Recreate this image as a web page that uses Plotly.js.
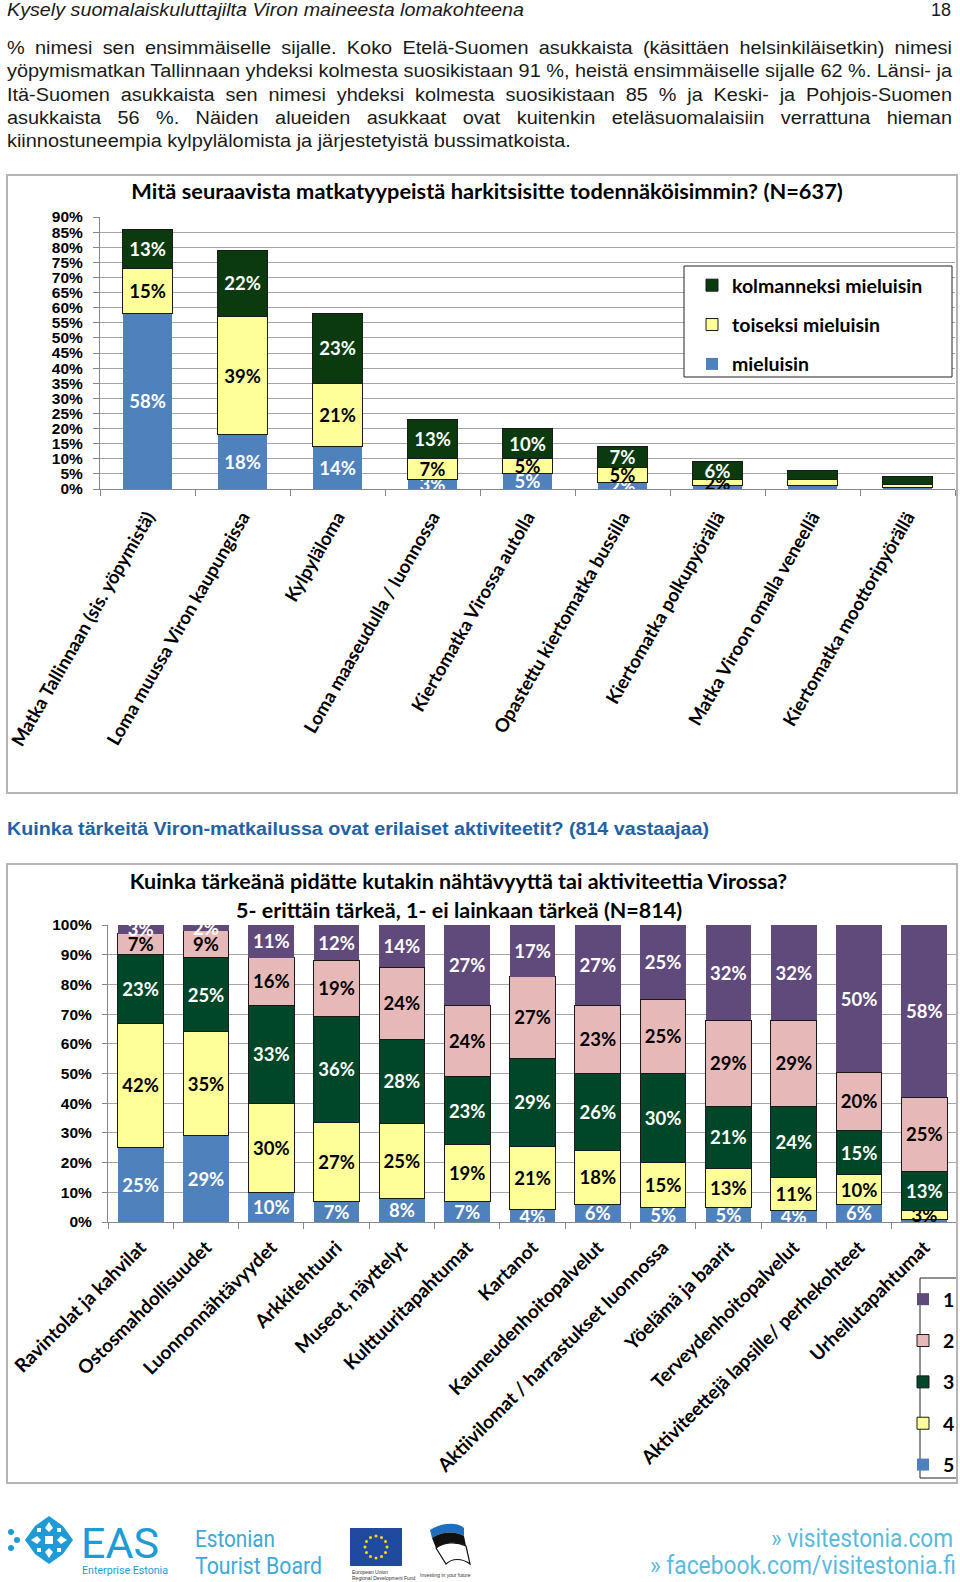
<!DOCTYPE html>
<html><head><meta charset="utf-8">
<script src="https://cdn.plot.ly/plotly-3.0.1.min.js"></script>
<style>
html,body{margin:0;padding:0;}
body{width:960px;height:1582px;position:relative;background:#fff;overflow:hidden;font-family:"Liberation Sans",Arial,sans-serif;}
.ln{position:absolute;left:7px;white-space:nowrap;font-size:18px;line-height:20px;color:#1a1a1a;transform-origin:0 50%;}
.box{position:absolute;border:2px solid #b4b4b4;box-sizing:border-box;pointer-events:none;}
.plot{position:absolute;}
.ft{position:absolute;white-space:nowrap;transform-origin:0 50%;}
</style></head><body>

<div class="ln fit" data-w="517" style="top:0px;font-style:italic;">Kysely suomalaiskuluttajilta Viron maineesta lomakohteena</div>
<div class="ln" style="top:0px;left:auto;right:9px;">18</div>

<div class="ln para just" style="top:38px;">% nimesi sen ensimmäiselle sijalle. Koko Etelä-Suomen asukkaista (käsittäen helsinkiläisetkin) nimesi</div>
<div class="ln para just" style="top:61px;">yöpymismatkan Tallinnaan yhdeksi kolmesta suosikistaan 91 %, heistä ensimmäiselle sijalle 62 %. Länsi- ja</div>
<div class="ln para just" style="top:85px;">Itä-Suomen asukkaista sen nimesi yhdeksi kolmesta suosikistaan 85 % ja Keski- ja Pohjois-Suomen</div>
<div class="ln para just" style="top:108px;">asukkaista 56 %. Näiden alueiden asukkaat ovat kuitenkin eteläsuomalaisiin verrattuna hieman</div>
<div class="ln para" style="top:131px;">kiinnostuneempia kylpylälomista ja järjestetyistä bussimatkoista.</div>

<div id="chart1" class="plot" style="left:7px;top:175px;width:950px;height:618px;"></div>
<div class="box" style="left:6px;top:174px;width:952px;height:620px;"></div>

<div class="ln fit" data-w="702" style="top:819px;color:#1f62a6;font-weight:bold;">Kuinka tärkeitä Viron-matkailussa ovat erilaiset aktiviteetit? (814 vastaajaa)</div>

<div id="chart2" class="plot" style="left:7px;top:864px;width:950px;height:619px;"></div>
<div class="box" style="left:6px;top:863px;width:952px;height:621px;"></div>

<!-- footer -->
<svg style="position:absolute;left:7px;top:1516px;" width="68" height="48" viewBox="0 0 68 48">
  <g fill="#1e9bd7">
    <circle cx="4" cy="16" r="3"/><circle cx="4" cy="32" r="3"/><circle cx="10" cy="24" r="3"/>
    <polygon points="42,0 56,10 66,24 56,38 42,48 28,38 18,24 28,10"/>
  </g>
  <g fill="#fff">
    <rect x="38" y="20" width="8" height="8"/>
    <polygon points="42,6 46,12 42,16 38,12"/><polygon points="42,32 46,36 42,42 38,36"/>
    <polygon points="24,24 30,20 34,24 30,28"/><polygon points="50,24 54,20 60,24 54,28"/>
    <rect x="30" y="12" width="4" height="4"/><rect x="50" y="12" width="4" height="4"/>
    <rect x="30" y="32" width="4" height="4"/><rect x="50" y="32" width="4" height="4"/>
  </g>
</svg>
<div class="ft fit" data-w="78" style="left:81px;top:1526px;font-family:Roboto,sans-serif;font-size:42px;line-height:36px;color:#1e9bd7;">EAS</div>
<div class="ft fit" data-w="86" style="left:82px;top:1565px;font-family:Roboto,sans-serif;font-size:10px;line-height:12px;color:#1e9bd7;">Enterprise Estonia</div>
<div class="ft fit" data-w="80" style="left:195px;top:1527px;font-family:Roboto,sans-serif;font-size:23px;line-height:26px;color:#3ea9d9;">Estonian</div>
<div class="ft fit" data-w="127" style="left:195px;top:1554px;font-family:Roboto,sans-serif;font-size:23px;line-height:26px;color:#3ea9d9;">Tourist Board</div>
<svg style="position:absolute;left:350px;top:1528px;" width="52" height="38" viewBox="0 0 52 38">
  <rect x="0" y="0" width="52" height="38" fill="#1f4aa0"/>
  <g fill="#ffdd00" id="stars"></g>
</svg>
<div class="ft" style="left:352px;top:1569px;font-size:5px;line-height:6px;color:#333;">European Union<br>Regional Development Fund</div>
<svg style="position:absolute;left:424px;top:1522px;" width="50" height="46" viewBox="0 0 50 46">
  <path d="M6,8 C18,0 34,0 40,6 L40,14 C32,9 18,9 8,16 Z" fill="#1f6fbf"/>
  <path d="M8,16 C18,9 32,9 40,14 L42,24 C32,19 20,20 12,26 Z" fill="#111"/>
  <path d="M12,26 C20,20 32,19 42,24 L46,42 C38,36 28,36 22,42 Z" fill="#fff" stroke="#111" stroke-width="1.2"/>
</svg>
<div class="ft" style="left:420px;top:1572px;font-size:5px;line-height:6px;color:#333;">Investing in your future</div>
<div class="ft fit" data-w="182" style="left:771px;top:1525px;font-family:Roboto,sans-serif;font-size:25px;line-height:28px;color:#5cb9dc;">» visitestonia.com</div>
<div class="ft fit" data-w="306" style="left:650px;top:1552px;font-family:Roboto,sans-serif;font-size:25px;line-height:28px;color:#5cb9dc;">» facebook.com/visitestonia.fi</div>

<script>
// ---------- Chart 1 data ----------
const c1Categories = ['Matka Tallinnaan (sis. yöpymistä)', 'Loma muussa Viron kaupungissa', 'Kylpyläloma',
  'Loma maaseudulla / luonnossa', 'Kiertomatka Virossa autolla', 'Opastettu kiertomatka bussilla',
  'Kiertomatka polkupyörällä', 'Matka Viroon omalla veneellä', 'Kiertomatka moottoripyörällä'];
const c1SeriesNames = ['mieluisin', 'toiseksi mieluisin', 'kolmanneksi mieluisin'];
const c1First  = [58, 18, 14, 3, 5, 2, 1, 1, 0.5];
const c1Second = [15, 39, 21, 7, 5, 5, 2, 2, 1];
const c1Third  = [13, 22, 23, 13, 10, 7, 6, 3, 2.5];
const c1FirstLabels  = ['58%', '18%', '14%', '3%', '5%', '2%', '', '', ''];
const c1SecondLabels = ['15%', '39%', '21%', '7%', '5%', '5%', '2%', '', ''];
const c1ThirdLabels  = ['13%', '22%', '23%', '13%', '10%', '7%', '6%', '', ''];
const c1Title = 'Mitä seuraavista matkatyypeistä harkitsisitte todennäköisimmin? (N=637)';

// ---------- Chart 2 data ----------
const c2Categories = ['Ravintolat ja kahvilat', 'Ostosmahdollisuudet', 'Luonnonnähtävyydet', 'Arkkitehtuuri',
  'Museot, näyttelyt', 'Kulttuuritapahtumat', 'Kartanot', 'Kauneudenhoitopalvelut',
  'Aktiivilomat / harrastukset luonnossa', 'Yöelämä ja baarit', 'Terveydenhoitopalvelut',
  'Aktiviteettejä lapsille/ perhekohteet', 'Urheilutapahtumat'];
const c2SeriesNames = ['5', '4', '3', '2', '1'];
const c2Score5 = [25, 29, 10, 7, 8, 7, 4, 6, 5, 5, 4, 6, 1];
const c2Score4 = [42, 35, 30, 27, 25, 19, 21, 18, 15, 13, 11, 10, 3];
const c2Score3 = [23, 25, 33, 36, 28, 23, 29, 26, 30, 21, 24, 15, 13];
const c2Score2 = [7, 9, 16, 19, 24, 24, 27, 23, 25, 29, 29, 20, 25];
const c2Score1 = [3, 2, 11, 12, 14, 27, 17, 27, 25, 32, 32, 50, 58];
const c2Score5Labels = ['25%', '29%', '10%', '7%', '8%', '7%', '4%', '6%', '5%', '5%', '4%', '6%', ''];
const c2Title1 = 'Kuinka tärkeänä pidätte kutakin nähtävyyttä tai aktiviteettia Virossa?';
const c2Title2 = '5- erittäin tärkeä, 1- ei lainkaan tärkeä (N=814)';

const pct = v => v + '%';

const BLUE = '#4f81bd', YELLOW = '#ffff99', GREEN1 = '#0b3a0e', GREEN2 = '#00472a', PINK = '#e6b9b8', PURPLE = '#604a7b';
const LABEL_FONT = 'Lato, "Open Sans", sans-serif';

function barTrace(x, y, text, name, color, lineW, txtColor, group, rank) {
  return {
    type: 'bar', x: x, y: y, name: name, text: text, legendgroup: group, legendrank: rank,
    textposition: 'inside', insidetextanchor: 'middle', constraintext: 'none', textangle: 0,
    textfont: {family: LABEL_FONT, size: 18.5, weight: 700, color: txtColor},
    insidetextfont: {family: LABEL_FONT, size: 18.5, weight: 700, color: txtColor},
    marker: {color: color, line: {color: '#1a1a1a', width: lineW}},
    cliponaxis: true, hoverinfo: 'none'
  };
}

// Chart 1
const t1 = [
  barTrace(c1Categories, c1First, c1FirstLabels, c1SeriesNames[0], BLUE, 0, '#ffffff', 'a', 3),
  barTrace(c1Categories, c1Second, c1SecondLabels, c1SeriesNames[1], YELLOW, 1, '#000000', 'b', 2),
  barTrace(c1Categories, c1Third, c1ThirdLabels, c1SeriesNames[2], GREEN1, 1, '#ffffff', 'c', 1)
];
const L1 = {l: 93, r: 2, t: 42, b: 304};
const W1 = 950, H1 = 618;
const pw1 = W1 - L1.l - L1.r, ph1 = H1 - L1.t - L1.b;
const px1 = x => (x - L1.l) / pw1, py1 = y => 1 - (y - L1.t) / ph1;
const layout1 = {
  width: W1, height: H1,
  margin: Object.assign({autoexpand: false}, L1),
  barmode: 'stack', bargap: 0.48,
  paper_bgcolor: 'rgba(0,0,0,0)', plot_bgcolor: 'rgba(0,0,0,0)',
  font: {family: LABEL_FONT, color: '#000'},
  title: {text: c1Title, font: {family: LABEL_FONT, size: 21.8, weight: 700, color: '#000'},
    xref: 'container', yref: 'container', x: 480 / W1, y: 1 - 16.5 / H1, xanchor: 'center', yanchor: 'middle'},
  xaxis: {type: 'category', tickangle: -60, tickfont: {family: LABEL_FONT, size: 18.5, weight: 700, color: '#000'},
    ticks: 'outside', tickson: 'boundaries', ticklen: 6, tickcolor: '#868686', ticklabelstandoff: 9,
    showline: true, linecolor: '#868686', linewidth: 1, showgrid: false, automargin: false, fixedrange: true},
  yaxis: {range: [0, 90], dtick: 5, ticksuffix: '%', showgrid: true, gridcolor: '#a6a6a6', gridwidth: 1,
    showline: true, linecolor: '#868686', ticks: 'outside', ticklen: 6, tickcolor: '#868686', ticklabelstandoff: 7,
    tickfont: {family: '"Liberation Sans", Arial, sans-serif', size: 15.5, weight: 700, color: '#000'},
    zeroline: false, automargin: false, fixedrange: true},
  legend: {x: px1(685), y: py1(91), xanchor: 'left', yanchor: 'top', bgcolor: 'rgba(0,0,0,0)', borderwidth: 0,
    font: {family: LABEL_FONT, size: 19.5, weight: 700, color: '#000'}, traceorder: 'grouped', tracegroupgap: 11},
  shapes: [{type: 'rect', xref: 'paper', yref: 'paper', x0: px1(677), x1: px1(945), y0: py1(202), y1: py1(91),
    fillcolor: '#ffffff', line: {color: '#222', width: 1}, layer: 'above'}],
  showlegend: true
};

// Chart 2
const t2 = [
  barTrace(c2Categories, c2Score5, c2Score5Labels, c2SeriesNames[0], BLUE, 0, '#ffffff', 'e', 5),
  barTrace(c2Categories, c2Score4, c2Score4.map(pct), c2SeriesNames[1], YELLOW, 1, '#000000', 'd', 4),
  barTrace(c2Categories, c2Score3, c2Score3.map(pct), c2SeriesNames[2], GREEN2, 1, '#ffffff', 'c', 3),
  barTrace(c2Categories, c2Score2, c2Score2.map(pct), c2SeriesNames[3], PINK, 1, '#000000', 'b', 2),
  barTrace(c2Categories, c2Score1, c2Score1.map(pct), c2SeriesNames[4], PURPLE, 0, '#ffffff', 'a', 1)
];
const L2 = {l: 101, r: 0, t: 61, b: 261};
const W2 = 950, H2 = 619;
const pw2 = W2 - L2.l - L2.r, ph2 = H2 - L2.t - L2.b;
const px2 = x => (x - L2.l) / pw2, py2 = y => 1 - (y - L2.t) / ph2;
const layout2 = {
  width: W2, height: H2,
  margin: Object.assign({autoexpand: false}, L2),
  barmode: 'stack', barnorm: 'percent', bargap: 0.3,
  paper_bgcolor: 'rgba(0,0,0,0)', plot_bgcolor: 'rgba(0,0,0,0)',
  font: {family: LABEL_FONT, color: '#000'},
  title: {text: c2Title1, font: {family: LABEL_FONT, size: 21.5, weight: 700, color: '#000'},
    xref: 'container', yref: 'container', x: 451.5 / W2, y: 1 - 17 / H2, xanchor: 'center', yanchor: 'middle'},
  annotations: [{text: c2Title2, xref: 'paper', yref: 'paper', x: px2(451.5), y: py2(46), xanchor: 'center', yanchor: 'middle',
    showarrow: false, font: {family: LABEL_FONT, size: 21.5, weight: 700, color: '#000'}}],
  xaxis: {type: 'category', tickangle: -45, tickfont: {family: LABEL_FONT, size: 19, weight: 700, color: '#000'},
    ticks: 'outside', tickson: 'boundaries', ticklen: 6, tickcolor: '#868686', ticklabelstandoff: 6,
    showline: true, linecolor: '#868686', linewidth: 1, showgrid: false, automargin: false, fixedrange: true},
  yaxis: {range: [0, 100], dtick: 10, ticksuffix: '%', showgrid: true, gridcolor: '#a6a6a6', gridwidth: 1,
    showline: true, linecolor: '#868686', ticks: 'outside', ticklen: 5, tickcolor: '#868686', ticklabelstandoff: 7,
    tickfont: {family: '"Liberation Sans", Arial, sans-serif', size: 15.5, weight: 700, color: '#000'},
    zeroline: false, automargin: false, fixedrange: true},
  legend: {x: px2(896), y: py2(416), xanchor: 'left', yanchor: 'top', bgcolor: 'rgba(0,0,0,0)', borderwidth: 0,
    font: {family: LABEL_FONT, size: 19.5, weight: 700, color: '#000'}, traceorder: 'grouped', tracegroupgap: 13},
  shapes: [{type: 'rect', xref: 'paper', yref: 'paper', x0: px2(913), x1: px2(1000), y0: py2(614), y1: py2(414),
    fillcolor: '#ffffff', line: {color: '#222', width: 1}, layer: 'above'}],
  showlegend: true
};

const cfg = {staticPlot: true, displayModeBar: false};
Plotly.newPlot('chart1', t1, layout1, cfg);
Plotly.newPlot('chart2', t2, layout2, cfg);

// EU stars
(function(){
  const g = document.getElementById('stars');
  let s = '';
  for (let i = 0; i < 12; i++) {
    const a = i * Math.PI / 6;
    s += '<circle cx="' + (26 + 11 * Math.cos(a)).toFixed(2) + '" cy="' + (19 + 11 * Math.sin(a)).toFixed(2) + '" r="1.5"/>';
  }
  g.innerHTML = s;
})();

function fitText() {
  document.querySelectorAll('.fit').forEach(el => {
    el.style.transform = 'none';
    const target = parseFloat(el.dataset.w);
    const w = el.getBoundingClientRect().width;
    if (w) el.style.transform = 'scaleX(' + (target / w) + ')';
  });
  // paragraph: one common horizontal scale, justified lines filled with word spacing
  const TARGET = 945;
  const paras = Array.from(document.querySelectorAll('.para'));
  paras.forEach(el => { el.style.transform = 'none'; el.style.wordSpacing = '0px'; });
  const widths = paras.map(el => el.getBoundingClientRect().width);
  let s = Infinity;
  paras.forEach((el, i) => { if (el.classList.contains('just')) s = Math.min(s, TARGET / widths[i]); });
  paras.forEach((el, i) => {
    el.style.transform = 'scaleX(' + s + ')';
    if (el.classList.contains('just')) {
      const n = (el.textContent.match(/ /g) || []).length;
      if (n) el.style.wordSpacing = ((TARGET / s - widths[i]) / n) + 'px';
    }
  });
}
if (document.fonts && document.fonts.ready) document.fonts.ready.then(fitText);
fitText();
</script>
</body></html>
